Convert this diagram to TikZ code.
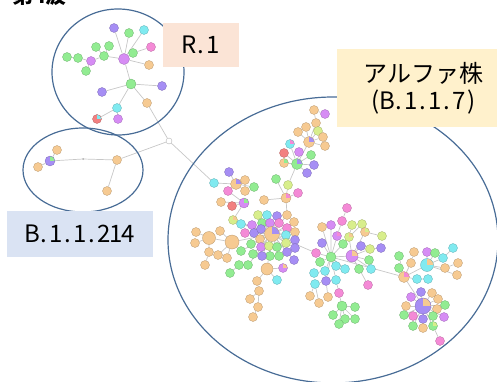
\documentclass[tikz,border=0pt]{standalone}
\usepackage{fontspec}
\setmainfont{Noto Sans CJK JP}
\usetikzlibrary{backgrounds}

\definecolor{ogc}{RGB}{246,202,146}
\definecolor{gnc}{RGB}{146,236,146}
\definecolor{cyc}{RGB}{128,234,240}
\definecolor{puc}{RGB}{166,142,244}
\definecolor{pkc}{RGB}{244,138,214}
\definecolor{mgc}{RGB}{214,140,244}
\definecolor{lmc}{RGB}{216,238,140}
\definecolor{rdc}{RGB}{242,128,128}
\definecolor{grpc}{RGB}{72,108,150}
\definecolor{r1c}{RGB}{251,228,214}
\definecolor{alc}{RGB}{255,241,204}
\definecolor{b1c}{RGB}{218,227,243}

\makeatletter
\newcommand\halfw[1]{\@tfor\hwc:=#1\do{\makebox[.5em]{\hwc}}}
\makeatother

\begin{document}
\begin{tikzpicture}[x=1pt,y=-1pt,
    nd/.style={circle,inner sep=0pt,minimum size=9pt,fill=#1,draw=#1!75!black,line width=.3pt},
    og/.style={nd=ogc}, gn/.style={nd=gnc}, cy/.style={nd=cyc}, pu/.style={nd=puc},
    pk/.style={nd=pkc}, mg/.style={nd=mgc}, lm/.style={nd=lmc}, rd/.style={nd=rdc},
    pie/.style 2 args={nd=#1,path picture={\fill[#2] (path picture bounding box.center) rectangle (path picture bounding box.north east);}},
    lk/.style={draw=black!22,line width=.7pt},
    grp/.style={draw=grpc,line width=1.2pt},
    tag/.style={fill=#1,inner sep=0pt,anchor=north west,font=\fontsize{24}{27}\selectfont}]
    \useasboundingbox (0,0) rectangle (497,382);
    \clip (0,0) rectangle (497,382);
    \node[font=\fontsize{21}{21}\selectfont\bfseries,anchor=base west,inner sep=0pt] (ttl) at (12,3.5) {第4波};

    \draw[grp] (118,72) ellipse[x radius=66,y radius=63];
    \draw[grp] (83,170) ellipse[x radius=60,y radius=42];
    \draw[grp] (333,240) ellipse[x radius=165,y radius=143];

    % R.1
    \node[pu] (rb) at (114,28) {};
    \node[gn] (rc) at (129,33) {};
    \node[cy] (rd) at (144,30) {};
    \node[gn] (re) at (133,53) {};
    \node[pk] (rf) at (151,47) {};
    \node[og] (rg) at (149,65) {};
    \node[gn] (rh) at (104,56) {};
    \node[gn] (ri) at (96,47) {};
    \node[gn] (rj) at (109,46) {};
    \node[mg] (rk) at (91,61) {};
    \node[gn] (rl) at (78,58) {};
    \node[gn] (rm) at (67,57) {};
    \node[gn] (rn) at (86,71) {};
    \node[mg,minimum size=11pt] (ra) at (124,59) {};
    \node[gn,minimum size=10pt] (ro) at (131,84) {};
    \node[pu] (rp) at (162,86) {};
    \node[pu] (rq) at (102,92) {};
    \node[og] (rr) at (147,103) {};
    \node[cy] (rs) at (117,108) {};
    \node[pie={rdc}{cyc}] (rt) at (97,119) {};
    \node[mg] (ru) at (118,119) {};
    \node[circle,draw=black!30,fill=white,minimum size=6pt,inner sep=0pt] (jn) at (169,141) {};

    % B.1.1.214
    \node[pie={puc}{gnc},minimum size=10pt] (ba) at (50,161) {};
    \node[og] (bb) at (57,150) {};
    \node[og] (bc) at (38,167) {};
    \node[circle,fill=black!35,minimum size=2pt,inner sep=0pt] (bd) at (83,159) {};
    \node[og] (be) at (117,160) {};
    \node[og] (bf) at (107,191) {};

    % alpha
    \node[pu] (ab) at (229,172) {};
    \node[cy] (ac) at (214,183) {};
    \node[og] (ad) at (245,180) {};
    \node[gn] (ae) at (254,187) {};
    \node[og] (af) at (245,191) {};
    \node[pk] (ag) at (228,191) {};
    \node[pie={ogc}{puc},minimum size=11pt] (aa) at (236,184) {};
    \node[og] (ah) at (221,202) {};
    \node[rd] (aj) at (232,206) {};
    \node[pie={mgc}{gnc},minimum size=10pt] (ai) at (244,203) {};

    \node[gn] (ub) at (276,179) {};
    \node[lm] (uc) at (288,185) {};
    \node[pk] (ud) at (298,193) {};
    \node[og] (ue) at (264,200) {};
    \node[pie={ogc}{pkc},minimum size=10pt] (ua) at (286,198) {};
    \node[rd] (ug) at (284,153) {};
    \node[pie={ogc}{gnc}] (uh) at (284,163) {};
    \node[pie={cyc}{pkc}] (ui) at (290,144) {};
    \node[mg] (uj) at (299,152) {};
    \node[gn] (uk) at (311,155) {};
    \node[pu] (ul) at (314,165) {};
    \node[pu] (um) at (307,173) {};
    \node[pie={gnc}{puc},minimum size=11pt] (uf) at (297,164) {};
    \node[og] (uo) at (298,132) {};
    \node[og] (up) at (306,127) {};
    \node[og] (uq) at (316,123) {};
    \node[og] (ur) at (314,110) {};
    \node[mg] (us) at (325,114) {};
    \node[lm] (ut) at (318,131) {};
    \node[og] (uu) at (323,137) {};
    \node[og] (uv) at (325,146) {};
    \node[pie={ogc}{puc},minimum size=11pt] (un) at (309,142) {};

    \node[lm] (z1) at (258,215) {};
    \node[cy] (z2) at (267,215) {};
    \node[pu] (z3) at (277,216) {};
    \node[og] (z4) at (287,215) {};
    \node[og] (z5) at (294,222) {};
    \node[mg] (z6) at (252,225) {};
    \node[gn] (z7) at (262,223) {};
    \node[mg] (z8) at (270,223) {};
    \node[pk] (z9) at (279,223) {};
    \node[pk] (z10) at (287,228) {};
    \node[og] (z11) at (295,232) {};
    \node[pk] (z12) at (245,233) {};
    \node[pu] (z13) at (254,233) {};
    \node[pu] (z14) at (261,229) {};
    \node[cy] (z15) at (286,235) {};
    \node[pu] (z16) at (295,240) {};
    \node[og] (z17) at (260,239) {};
    \node[gn] (z18) at (251,244) {};
    \node[mg] (z19) at (261,247) {};
    \node[lm] (z20) at (269,246) {};
    \node[gn] (z21) at (277,247) {};
    \node[lm] (z22) at (286,243) {};
    \node[pu] (z23) at (295,248) {};
    \node[pu] (z24) at (287,252) {};
    \node[gn] (z25) at (279,256) {};
    \node[gn] (z26) at (270,256) {};
    \node[pu] (z27) at (262,256) {};
    \node[gn] (z28) at (253,254) {};
    \node[pu] (z29) at (294,260) {};
    \node[gn] (z30) at (241,251) {};
    \node[pie={lmc}{ogc}] (z31) at (233,220) {};
    \node[cy] (z32) at (241,224) {};
    \node[pie={ogc}{puc},minimum size=15pt] (ca) at (272,234) {};

    \node[og] (l1) at (196,232) {};
    \node[og] (l2) at (195,243) {};
    \node[og] (l3) at (220,231) {};
    \node[og] (l4) at (209,252) {};
    \node[og] (l5) at (218,255) {};
    \node[og] (l6) at (227,258) {};
    \node[og] (l7) at (205,265) {};
    \node[og,minimum size=13pt] (lc) at (209,238) {};
    \node[og,minimum size=14pt] (lb) at (232,242) {};
    \node[gn] (e1) at (230,273) {};
    \node[gn] (e2) at (239,265) {};
    \node[gn] (e3) at (248,265) {};

    \node[og] (o1) at (257,281) {};
    \node[og] (o2) at (259,291) {};
    \node[og] (o3) at (250,299) {};
    \node[og] (o4) at (258,307) {};
    \node[og] (o5) at (253,317) {};
    \node[cy] (o6) at (277,280) {};
    \node[pie={mgc}{ogc}] (o7) at (283,268) {};
    \node[og,minimum size=12pt] (lo) at (267,269) {};

    \node[pk] (gp) at (316,253) {};
    \node[pk] (g1) at (347,208) {};
    \node[pk] (g2) at (342,221) {};
    \node[mg] (g3) at (331,225) {};
    \node[og] (g4) at (322,227) {};
    \node[pie={mgc}{pkc}] (g5) at (337,236) {};
    \node[gn] (g6) at (343,244) {};
    \node[pu] (g7) at (322,243) {};
    \node[gn] (g8) at (320,262) {};
    \node[cy] (g9) at (336,266) {};
    \node[cy] (g10) at (345,269) {};
    \node[cy] (g11) at (314,273) {};
    \node[cy] (g12) at (325,271) {};
    \node[pu] (g13) at (326,281) {};
    \node[cy] (g14) at (315,284) {};
    \node[cy] (g15) at (336,280) {};
    \node[pk] (g16) at (339,293) {};
    \node[og] (g17) at (310,296) {};
    \node[og] (g18) at (319,303) {};
    \node[og] (g19) at (328,297) {};
    \node[gn,minimum size=10pt] (ga) at (331,257) {};
    \node[gn] (q1) at (355,307) {};
    \node[gn] (q2) at (333,315) {};
    \node[gn] (q3) at (345,319) {};
    \node[gn] (q4) at (355,319) {};
    \node[gn] (q5) at (339,324) {};
    \node[gn,minimum size=10pt] (gh) at (342,306) {};

    \node[lm] (h1) at (352,225) {};
    \node[lm] (h2) at (362,224) {};
    \node[pie={lmc}{ogc}] (h3) at (349,237) {};
    \node[pie={ogc}{lmc}] (h4) at (365,232) {};
    \node[lm] (h5) at (382,236) {};
    \node[pu] (h6) at (381,248) {};
    \node[lm] (h7) at (370,249) {};
    \node[pu] (h8) at (361,246) {};
    \node[gn] (h9) at (359,269) {};
    \node[cy] (h10) at (371,269) {};
    \node[gn] (h11) at (369,260) {};
    \node[pk] (h12) at (368,285) {};
    \node[pie={mgc}{ogc},minimum size=12pt] (hb) at (352,256) {};

    \node[gn] (k1) at (399,256) {};
    \node[gn] (k2) at (399,268) {};
    \node[og] (k3) at (411,263) {};
    \node[og] (k4) at (414,252) {};
    \node[cy] (k5) at (417,279) {};
    \node[cy] (k6) at (428,279) {};
    \node[pie={ogc}{pkc},minimum size=11pt] (ka) at (404,277) {};
    \node[mg] (m1) at (427,252) {};
    \node[gn] (m2) at (435,253) {};
    \node[cy] (m3) at (443,258) {};
    \node[cy] (m4) at (453,248) {};
    \node[og] (m5) at (445,268) {};
    \node[og] (m6) at (458,263) {};
    \node[og] (m7) at (457,275) {};
    \node[pie={cyc}{ogc},minimum size=13pt] (kb) at (427,265) {};

    \node[pu] (c1) at (421,292) {};
    \node[mg] (c2) at (411,297) {};
    \node[og] (c3) at (406,306) {};
    \node[og] (c4) at (432,293) {};
    \node[og] (c5) at (438,299) {};
    \node[og] (c6) at (437,309) {};
    \node[gn] (c7) at (445,305) {};
    \node[mg] (c8) at (444,317) {};
    \node[gn] (c9) at (433,316) {};
    \node[pie={gnc}{lmc}] (c10) at (433,326) {};
    \node[pu] (c11) at (423,319) {};
    \node[og] (c12) at (423,328) {};
    \node[pk] (c13) at (413,316) {};
    \node[gn] (c14) at (404,315) {};
    \node[gn] (c15) at (413,326) {};
    \node[pk] (c16) at (440,341) {};
    \node[pie={puc}{ogc},minimum size=16pt] (kc) at (423,306) {};

    \begin{scope}[on background layer]
    \draw[lk] (ra)--(rb) (ra)--(rc) (ra)--(rd) (ra)--(re) (re)--(rf) (ra)--(rg) (ra)--(rh) (rh)--(ri) (rh)--(rj) (rh)--(rk) (rk)--(rl) (rl)--(rm) (rk)--(rn);
    \draw[lk] (ra)--(ro) (ro)--(rp) (ro)--(rq) (ro)--(rr) (ro)--(rs) (rs)--(rt) (rs)--(ru) (rr)--(jn);
    \draw[lk] (ba)--(bb) (ba)--(bc) (ba)--(bd) (bd)--(be) (be)--(bf) (be)--(jn);
    \draw[lk] (jn)--(ac) (ac)--(aa) (aa)--(ab) (aa)--(ad) (aa)--(ae) (aa)--(af) (aa)--(ag) (ag)--(ai) (ai)--(ah) (ai)--(aj) (ai)--(z31) (z31)--(ca) (z32)--(ca);
    \draw[lk] (ca)--(z4) (z4)--(ua) (ua)--(ub) (ua)--(uc) (ua)--(ud) (ua)--(ue) (uc)--(uf) (uf)--(ug) (uf)--(uh) (uf)--(ui) (uf)--(uj) (uf)--(uk) (uf)--(ul) (uf)--(um) (uf)--(un);
    \draw[lk] (un)--(uo) (un)--(up) (un)--(uq) (uq)--(ur) (ur)--(us) (un)--(ut) (un)--(uu) (un)--(uv);
    \foreach \n in {z1,z2,z3,z5,z6,z7,z8,z9,z10,z11,z12,z13,z14,z15,z16,z17,z18,z19,z20,z21,z22,z23,z24,z25,z26,z27,z28,z29,z30,lb,lo,gp,e3}
      \draw[lk] (ca)--(\n);
    \draw[lk] (lb)--(lc) (lc)--(l1) (lc)--(l2) (lb)--(l3) (lc)--(l4) (lb)--(l5) (lb)--(l6) (l4)--(l7) (e3)--(e2) (e2)--(e1);
    \draw[lk] (lo)--(o1) (o1)--(o2) (o2)--(o3) (o2)--(o4) (o4)--(o5) (lo)--(o6) (lo)--(o7);
    \draw[lk] (gp)--(ga) (ga)--(g5) (g5)--(g2) (g2)--(g1) (ga)--(g3) (ga)--(g4) (ga)--(g6) (ga)--(g7) (ga)--(g8) (ga)--(g9) (ga)--(g10) (ga)--(g12) (g12)--(g11) (ga)--(g13) (g13)--(g14) (ga)--(g15) (g15)--(g16) (g16)--(gh) (g13)--(g19) (g14)--(g17) (g14)--(g18);
    \draw[lk] (gh)--(q1) (gh)--(q2) (gh)--(q3) (gh)--(q4) (gh)--(q5);
    \draw[lk] (ga)--(hb) (hb)--(h3) (h3)--(h1) (h3)--(h2) (hb)--(h4) (h4)--(h5) (hb)--(h7) (h7)--(h6) (hb)--(h8) (hb)--(h11) (hb)--(h9) (hb)--(h10) (hb)--(h12);
    \draw[lk] (ga)--(ka) (ka)--(k1) (ka)--(k2) (ka)--(k3) (k3)--(k4) (ka)--(k5) (k5)--(k6) (ka)--(kb) (kb)--(m1) (kb)--(m2) (kb)--(m3) (m3)--(m4) (kb)--(m5) (m5)--(m6) (kb)--(m7);
    \draw[lk] (ka)--(kc) (c10)--(c16);
    \foreach \n in {c1,c2,c3,c4,c5,c6,c7,c8,c9,c10,c11,c12,c13,c14,c15}
      \draw[lk] (kc)--(\n);
    \end{scope}

    \node[tag=r1c,minimum width=76pt,minimum height=44pt] (tr) at (163,23) {\halfw{R.1}};
    \node[tag=alc,minimum width=172pt,minimum height=78pt,align=center] (ta) at (337,49) {アルファ株\\\halfw{(B.1.1.7)}};
    \node[tag=b1c,minimum width=146pt,minimum height=46pt] (tb) at (7,211) {\halfw{B.1.1.214}};
\end{tikzpicture}
\end{document}
